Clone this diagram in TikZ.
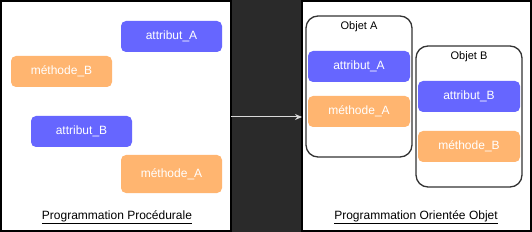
\documentclass[tikz,border=0pt]{standalone}
\usepackage{fontspec}
\setmainfont{Liberation Sans}
\usetikzlibrary{arrows.meta}
\definecolor{bgdark}{HTML}{2A2A2A}
\definecolor{attrblue}{HTML}{6666FF}
\definecolor{methorange}{HTML}{FFB570}
\definecolor{objborder}{HTML}{333333}
\begin{document}
\begin{tikzpicture}[x=1pt,y=-1pt,
  panel/.style={draw=black,line width=2pt,fill=white},
  attrbox/.style={fill=attrblue,rounded corners=5pt,text=white,font=\fontsize{12}{14}\selectfont},
  methbox/.style={fill=methorange,rounded corners=5pt,text=white,font=\fontsize{12}{14}\selectfont},
  objbox/.style={draw=objborder,line width=1.3pt,rounded corners=12pt,fill=white},
  lbl/.style={font=\fontsize{12}{14}\selectfont,text=black},
  ttl/.style={font=\fontsize{11}{13}\selectfont,text=black}]
\useasboundingbox (0,0) rectangle (532,232);
\fill[bgdark] (0,0) rectangle (532,232);
% panels
\draw[panel] (1,1) rectangle (231,231);
\draw[panel] (302,1) rectangle (531,231);
\coordinate (leftedge) at (231,117);
\coordinate (rightedge) at (302,117);
\draw[white!85!black,line width=1pt,-{Stealth[length=7pt,width=6pt]}] (leftedge) -- (rightedge);
% left panel
\path[attrbox] (121,21) rectangle (222,52) node[midway] (lA) {attribut\_A};
\path[methbox] (11,56) rectangle (112,87) node[midway] (lmB) {méthode\_B};
\path[attrbox] (31,116) rectangle (132,147) node[midway] (lB) {attribut\_B};
\path[methbox] (121,155) rectangle (222,193) node[midway] (lmA) {méthode\_A};
\node[lbl] (proc) at (117,217) {\underline{Programmation Procédurale}};
% right panel
\draw[objbox] (306,16) rectangle (412,157);
\node[ttl] (objA) at (359,27) {Objet A};
\path[attrbox] (308,51) rectangle (410,82) node[midway] (rA) {attribut\_A};
\path[methbox] (308,96) rectangle (410,127) node[midway] (rmA) {méthode\_A};
\draw[objbox] (416,46) rectangle (522,187);
\node[ttl] (objB) at (469,57) {Objet B};
\path[attrbox] (418,81) rectangle (520,112) node[midway] (rB) {attribut\_B};
\path[methbox] (418,131) rectangle (520,162) node[midway] (rmB) {méthode\_B};
\node[lbl] (poo) at (416,217) {\underline{Programmation Orientée Objet}};
\end{tikzpicture}
\end{document}
